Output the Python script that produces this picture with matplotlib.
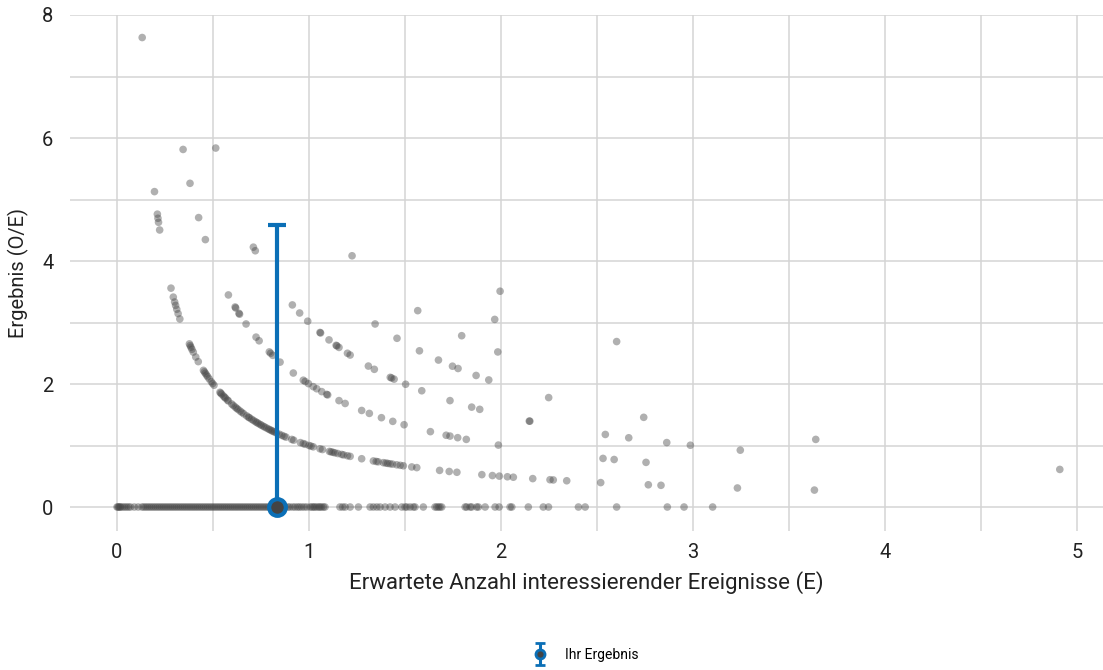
import matplotlib.pyplot as plt
import numpy as np
from matplotlib.legend_handler import HandlerErrorbar

plt.rcParams['font.family'] = ['Roboto', 'DejaVu Sans']

# expected counts (E) of each hospital, grouped by observed count (O)
e_obs0 = [0.0, 0.005, 0.01, 0.015, 0.02, 0.03, 0.04, 0.05, 0.06, 0.07, 0.09, 0.11,
          0.13, 0.14, 0.15, 0.16, 0.17, 0.18, 0.19, 0.2, 0.21, 0.22, 0.23, 0.24,
          0.25, 0.26, 0.27, 0.28, 0.29, 0.3, 0.31, 0.32, 0.33, 0.34, 0.35, 0.36,
          0.37, 0.38, 0.39, 0.4, 0.41, 0.42, 0.43, 0.44, 0.45, 0.46, 0.47, 0.48,
          0.49, 0.5, 0.51, 0.52, 0.53, 0.54, 0.55, 0.56, 0.57, 0.58, 0.59, 0.6,
          0.61, 0.62, 0.63, 0.64, 0.65, 0.66, 0.67, 0.68, 0.69, 0.7, 0.71, 0.72,
          0.73, 0.74, 0.75, 0.76, 0.77, 0.78, 0.79, 0.8, 0.81, 0.82, 0.83,
          0.85, 0.875, 0.89, 0.9, 0.915, 0.927, 0.94, 0.95, 0.962, 0.975, 0.988,
          1.005, 1.015, 1.023, 1.03, 1.04, 1.05, 1.057, 1.065, 1.075, 1.083,
          1.161, 1.175, 1.188, 1.214, 1.257, 1.318, 1.335, 1.353, 1.37, 1.396,
          1.422, 1.448, 1.483, 1.5, 1.509, 1.526, 1.543, 1.552, 1.595, 1.656,
          1.665, 1.674, 1.682, 1.691, 1.813, 1.821, 1.839, 1.847, 1.873, 1.882,
          1.917, 1.969, 1.99, 2.047, 2.056, 2.142, 2.22, 2.247, 2.403, 2.438,
          2.602, 2.866, 2.953, 3.102]
e_obs1 = [0.131, 0.195, 0.21, 0.213, 0.216, 0.222, 0.281, 0.293, 0.3, 0.305, 0.311,
          0.318, 0.327, 0.377, 0.381, 0.385, 0.39, 0.397, 0.41, 0.423, 0.45, 0.455,
          0.46, 0.466, 0.472, 0.48, 0.491, 0.498, 0.505, 0.536, 0.54, 0.545, 0.554,
          0.56, 0.565, 0.575, 0.58, 0.597, 0.605, 0.615, 0.623, 0.63, 0.641, 0.65,
          0.66, 0.675, 0.685, 0.69, 0.701, 0.71, 0.72, 0.728, 0.735, 0.745, 0.752,
          0.762, 0.77, 0.78, 0.79, 0.797, 0.805, 0.812, 0.82, 0.83, 0.845, 0.858,
          0.87, 0.88, 0.91, 0.92, 0.955, 0.97, 0.98, 1.0, 1.01, 1.022, 1.057, 1.07,
          1.106, 1.115, 1.125, 1.135, 1.15, 1.17, 1.18, 1.2, 1.214, 1.274, 1.335,
          1.35, 1.36, 1.387, 1.4, 1.41, 1.422, 1.435, 1.457, 1.475, 1.491, 1.535,
          1.561, 1.68, 1.73, 1.77, 1.9, 1.955, 1.991, 2.033, 2.064, 2.165, 2.255,
          2.272, 2.342, 2.519, 2.767, 2.833, 3.231, 3.632]
e_obs2 = [0.344, 0.38, 0.425, 0.46, 0.58, 0.615, 0.618, 0.635, 0.638, 0.672, 0.724,
          0.74, 0.793, 0.8, 0.811, 0.849, 0.918, 0.97, 0.98, 0.997, 1.022, 1.04,
          1.066, 1.092, 1.097, 1.156, 1.188, 1.274, 1.314, 1.377, 1.436, 1.495,
          1.632, 1.714, 1.734, 1.774, 1.819, 1.986, 2.531, 2.589, 2.755]
e_obs3 = [0.514, 0.71, 0.72, 0.913, 0.951, 0.993, 1.057, 1.06, 1.104, 1.141, 1.145,
          1.156, 1.2, 1.214, 1.309, 1.34, 1.423, 1.43, 1.443, 1.503, 1.587, 1.734,
          1.847, 1.889, 2.147, 2.15, 2.543, 2.665, 2.863, 2.986, 3.246, 4.91]
e_obs4 = [1.344, 1.458, 1.575, 1.674, 1.747, 1.776, 1.87, 1.936, 2.248, 2.743, 3.639]
e_obs5 = [1.224, 1.566, 1.795, 1.983]
e_obs6 = [1.967]
e_obs7 = [1.995, 2.602]

groups = [e_obs0, e_obs1, e_obs2, e_obs3, e_obs4, e_obs5, e_obs6, e_obs7]

# own result
own_e = 0.833
own_ratio = 0.0
own_upper = 4.59

blue = '#0b6fb6'

fig = plt.figure(figsize=(11.03, 6.70), dpi=100)
ax = fig.add_axes([70 / 1103, 139 / 670, 1 - 70 / 1103, 516 / 670])

for obs, es in enumerate(groups):
    es = np.array(es)
    ax.scatter(es, obs / es if obs > 0 else np.zeros_like(es), s=30,
               color='#444444', alpha=0.42, edgecolors='none', zorder=3)

ax.errorbar([own_e], [own_ratio], yerr=[[0], [own_upper - own_ratio]], fmt='o',
            color=blue, ecolor=blue, elinewidth=3, capsize=6.5, capthick=3,
            markersize=12, markerfacecolor='#444444', markeredgecolor=blue,
            markeredgewidth=3, zorder=5)

# smaller copy only for the legend
ax.errorbar([np.nan], [np.nan], yerr=[[1], [1]], fmt='o', color=blue, ecolor=blue,
            elinewidth=2.2, capsize=3.5, capthick=2.2, markersize=6.5,
            markerfacecolor='#444444', markeredgecolor=blue, markeredgewidth=2,
            label='Ihr Ergebnis')

ax.set_xlim(-0.245, 5.135)
ax.set_ylim(-0.39, 8.0)
ax.set_xticks([0, 1, 2, 3, 4, 5])
ax.set_xticks([0.5, 1.5, 2.5, 3.5, 4.5], minor=True)
ax.set_yticks([0, 2, 4, 6, 8])
ax.set_yticks([1, 3, 5, 7], minor=True)
ax.grid(True, which='both', color='#d4d4d4', linewidth=1.1)
ax.set_axisbelow(True)
for s in ax.spines.values():
    s.set_visible(False)
ax.tick_params(which='both', length=0, labelsize=14.5, colors='#222222')
ax.tick_params(axis='y', pad=12)
ax.tick_params(axis='x', pad=9)

ax.set_xlabel('Erwartete Anzahl interessierender Ereignisse (E)', fontsize=16,
              color='#222222', labelpad=6)
ax.set_ylabel('Ergebnis (O/E)', fontsize=14.5, color='#222222', labelpad=9)

fig.legend(loc='center', bbox_to_anchor=(0.531, 1 - 655 / 670), frameon=False,
           fontsize=10, handlelength=1.0, handletextpad=1.3,
           handler_map={type(ax.containers[-1]): HandlerErrorbar(yerr_size=0.8)})

fig.savefig('out.png', dpi=100)
